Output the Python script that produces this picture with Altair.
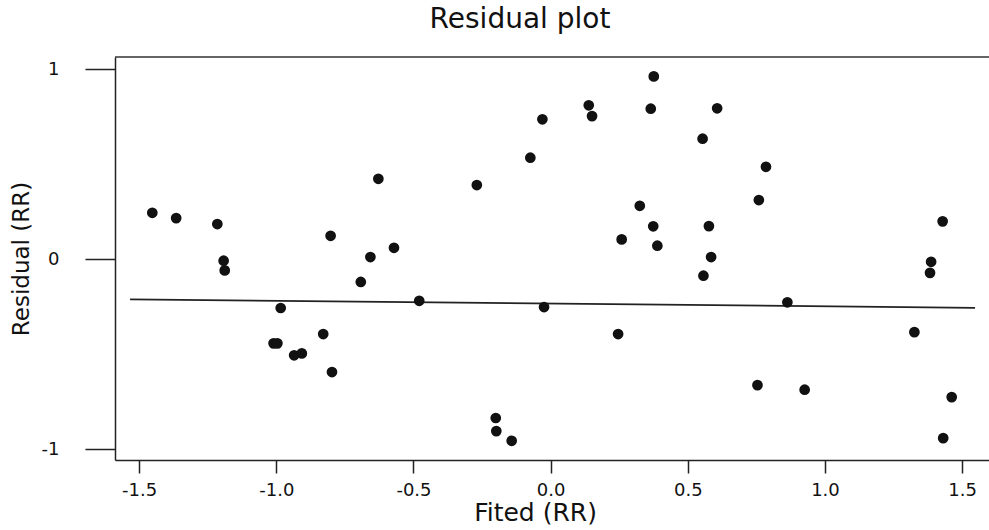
import altair as alt
import pandas as pd

# Data
fitted = [-1.452, -1.365, -1.215, -1.192, -1.188, -0.802, -0.628, -0.571, -0.657, -0.692,
          -0.984, -1.010, -0.996, -0.935, -0.907, -0.829, -0.797, -0.479, -0.269, -0.074,
          -0.030, -0.024, -0.200, -0.198, -0.142, 0.139, 0.151, 0.246, 0.259, 0.325,
          0.365, 0.376, 0.374, 0.389, 0.554, 0.557, 0.577, 0.585, 0.607, 0.754,
          0.759, 0.785, 0.863, 0.926, 1.326, 1.383, 1.387, 1.429, 1.431, 1.462]
residual = [0.245, 0.217, 0.186, -0.007, -0.058, 0.124, 0.424, 0.061, 0.012, -0.119,
            -0.256, -0.442, -0.442, -0.505, -0.495, -0.393, -0.593, -0.218, 0.391, 0.535,
            0.737, -0.251, -0.835, -0.904, -0.955, 0.811, 0.754, -0.393, 0.105, 0.282,
            0.793, 0.963, 0.174, 0.072, 0.635, -0.086, 0.175, 0.012, 0.795, -0.662,
            0.312, 0.487, -0.226, -0.686, -0.383, -0.071, -0.013, 0.200, -0.941, -0.725]
line_x = [-1.533, 1.547]
line_y = [-0.211, -0.255]
x_ticks = [-1.5, -1.0, -0.5, 0.0, 0.5, 1.0, 1.5]
y_ticks = [-1, 0, 1]

pts = pd.DataFrame({"Fitted": fitted, "Residual": residual})
ln = pd.DataFrame({"Fitted": line_x, "Residual": line_y})
one = pd.DataFrame({"a": [0]})

W, H = 874, 403
FONT = "DejaVu Sans"

xscale = alt.Scale(domain=[-1.588, 1.598], nice=False, zero=False)
yscale = alt.Scale(domain=[-1.056, 1.065], nice=False, zero=False)

xaxis = alt.Axis(values=x_ticks, title="Fited (RR)", tickSize=13, labelPadding=8,
                 titlePadding=1, titleX=420, grid=False, labelFlush=False,
                 labelFont=FONT, labelFontSize=18, labelColor="#111111",
                 titleFont=FONT, titleFontSize=25, titleFontWeight="normal", titleColor="#111111",
                 domainColor="#222222", tickColor="#222222", domainWidth=1.5, tickWidth=1.5,
                 labelExpr="datum.value < 0 ? '-' + format(-datum.value, '.1f') : format(datum.value, '.1f')")
yaxis = alt.Axis(values=y_ticks, title="Residual (RR)", tickSize=30, labelPadding=26,
                 titlePadding=8, grid=False, labelFlush=False,
                 labelFont=FONT, labelFontSize=18, labelColor="#111111",
                 titleFont=FONT, titleFontSize=23, titleFontWeight="normal", titleColor="#111111",
                 domainColor="#222222", tickColor="#222222", domainWidth=1.5, tickWidth=1.5,
                 labelExpr="datum.value < 0 ? '-' + format(-datum.value, 'd') : format(datum.value, 'd')")

points = alt.Chart(pts).mark_point(filled=True, shape="circle", size=115, color="#111111", opacity=1).encode(
    x=alt.X("Fitted:Q", scale=xscale, axis=xaxis),
    y=alt.Y("Residual:Q", scale=yscale, axis=yaxis),
)

fit_line = alt.Chart(ln).mark_line(color="#222222", strokeWidth=1.7).encode(
    x=alt.X("Fitted:Q", scale=xscale),
    y=alt.Y("Residual:Q", scale=yscale),
)

top_border = alt.Chart(one).mark_rule(color="#333333", strokeWidth=1.5).encode(
    x=alt.value(0), x2=alt.value(W), y=alt.value(0)
)

chart = alt.layer(top_border, fit_line, points).properties(
    width=W, height=H,
    background="white",
    title=alt.TitleParams("Residual plot", font=FONT, fontSize=28, fontWeight="normal",
                          color="#111111", anchor="middle", dx=-32, offset=-6, baseline="bottom"),
    autosize=alt.AutoSizeParams(type="none"),
    padding={"left": 115, "top": 57, "right": 0, "bottom": 70},
).configure_view(stroke="transparent")

chart.save("out.html", embed_options={"renderer": "svg", "actions": False})
